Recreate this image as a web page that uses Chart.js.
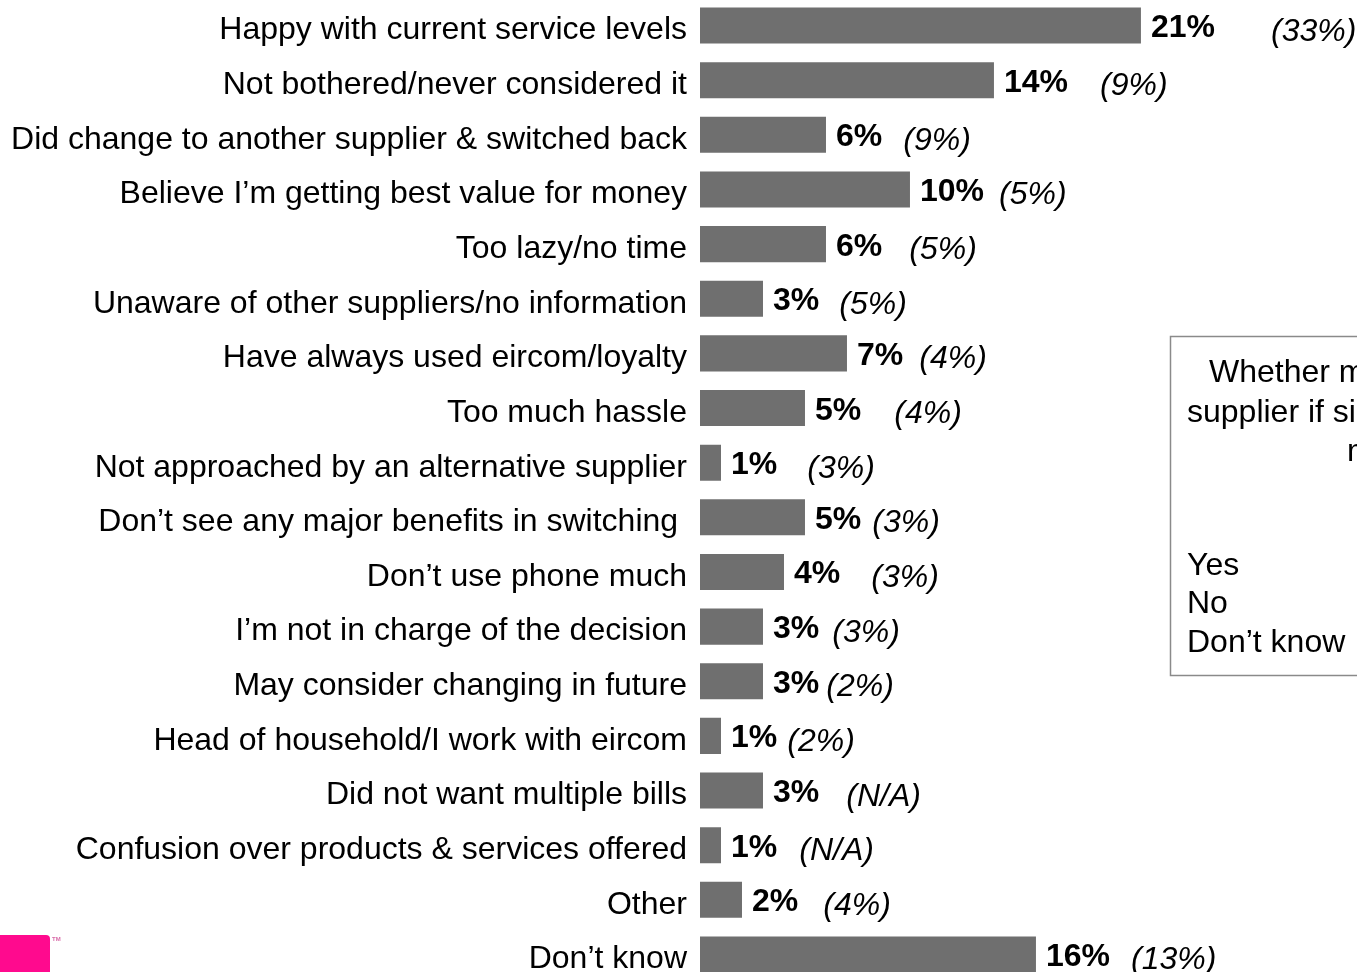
<!DOCTYPE html>
<html>
<head>
<meta charset="utf-8">
<script src="https://cdn.jsdelivr.net/npm/chart.js@4.4.1/dist/chart.umd.min.js"></script>
<style>
  html, body { margin: 0; padding: 0; background: #fff; overflow: hidden; width: 1357px; height: 972px; }
  /* the y axis keeps ~32px of label room above and below the plot; the canvas is shifted so the plot spans the page */
  #wrap { position: absolute; left: 0; top: -34px; width: 1357px; height: 1048px; }
</style>
</head>
<body>
<div id="wrap"><canvas id="c"></canvas></div>
<script>
// Reasons for staying with the current supplier
const reasons = [
  "Happy with current service levels",
  "Not bothered/never considered it",
  "Did change to another supplier & switched back",
  "Believe I’m getting best value for money",
  "Too lazy/no time",
  "Unaware of other suppliers/no information",
  "Have always used eircom/loyalty",
  "Too much hassle",
  "Not approached by an alternative supplier",
  "Don’t see any major benefits in switching ",
  "Don’t use phone much",
  "I’m not in charge of the decision",
  "May consider changing in future",
  "Head of household/I work with eircom",
  "Did not want multiple bills",
  "Confusion over products & services offered",
  "Other",
  "Don’t know"
];
// Current wave, % of respondents
const shares = [21, 14, 6, 10, 6, 3, 7, 5, 1, 5, 4, 3, 3, 1, 3, 1, 2, 16];
// Previous wave, % (null = not asked)
const previous = [33, 9, 9, 5, 5, 5, 4, 4, 3, 3, 3, 3, 2, 2, null, null, 4, 13];

// Spacing between the bold value and the bracketed previous value, px
const noteGaps = [56, 32, 21, 15, 27, 20, 16, 33, 30, 11, 31, 13, 7, 10, 27, 22, 25, 21];

// Side panel text
const panelTitle = ["Whether might switch to", "supplier if significant savings", "made"];
const panelOptions = ["Yes", "No", "Don’t know"];

const FONT = "'Liberation Sans', Arial, Helvetica, sans-serif";
const BAR = "#6f6f6f";
const DY = 34; // canvas offset above the page top

const valueLabels = {
  id: "valueLabels",
  afterDatasetsDraw(chart) {
    const ctx = chart.ctx;
    const meta = chart.getDatasetMeta(0);
    ctx.save();
    ctx.fillStyle = "#000";
    ctx.textAlign = "left";
    ctx.textBaseline = "alphabetic";
    meta.data.forEach((bar, i) => {
      const x0 = bar.x + 10;
      ctx.font = "bold 32px " + FONT;
      const main = shares[i] + "%";
      ctx.fillText(main, x0, bar.y + 11.5);
      const w = ctx.measureText(main).width;
      ctx.font = "italic 32px " + FONT;
      const prev = previous[i] === null ? "(N/A)" : "(" + previous[i] + "%)";
      ctx.fillText(prev, x0 + w + noteGaps[i], bar.y + 15);
    });
    ctx.restore();
  }
};

const sidePanel = {
  id: "sidePanel",
  afterDraw(chart) {
    const ctx = chart.ctx;
    ctx.save();
    // question panel
    ctx.strokeStyle = "#8a8a8a";
    ctx.lineWidth = 1.5;
    ctx.strokeRect(1170.5, 336.5 + DY, 400, 339);
    ctx.fillStyle = "#000";
    ctx.font = "32px " + FONT;
    ctx.textAlign = "left";
    ctx.textBaseline = "alphabetic";
    ctx.fillText(panelTitle[0], 1209, 382 + DY);
    ctx.fillText(panelTitle[1], 1187, 422 + DY);
    ctx.fillText(panelTitle[2], 1347, 461 + DY);
    const optY = [575, 613, 652];
    panelOptions.forEach((t, i) => ctx.fillText(t, 1187, optY[i] + DY));

    // brand mark, bottom left
    ctx.fillStyle = "#ff0a8e";
    ctx.beginPath();
    ctx.moveTo(0, 935 + DY);
    ctx.lineTo(46, 935 + DY);
    ctx.quadraticCurveTo(50, 935 + DY, 50, 939 + DY);
    ctx.lineTo(50, 1048);
    ctx.lineTo(0, 1048);
    ctx.closePath();
    ctx.fill();
    ctx.fillStyle = "#d86aa8";
    ctx.font = "bold 6px " + FONT;
    ctx.fillText("TM", 52, 941 + DY);
    ctx.restore();
  }
};

new Chart(document.getElementById("c"), {
  type: "bar",
  data: {
    labels: reasons,
    datasets: [{
      data: shares,
      backgroundColor: BAR,
      borderWidth: 0,
      barPercentage: 0.66,
      categoryPercentage: 1
    }]
  },
  options: {
    indexAxis: "y",
    responsive: true,
    maintainAspectRatio: false,
    animation: false,
    devicePixelRatio: 1,
    layout: { padding: 0 },
    plugins: {
      legend: { display: false },
      tooltip: { enabled: false },
      title: { display: false }
    },
    scales: {
      x: { display: false, min: 0, max: 31.29 },
      y: {
        grid: { display: false, drawTicks: false },
        border: { display: false },
        ticks: {
          autoSkip: false,
          padding: 13,
          labelOffset: 5,
          color: "#000",
          font: { family: FONT, size: 32 }
        },
        afterFit(scale) { scale.width = 700; }
      }
    }
  },
  plugins: [valueLabels, sidePanel]
});
</script>
</body>
</html>
